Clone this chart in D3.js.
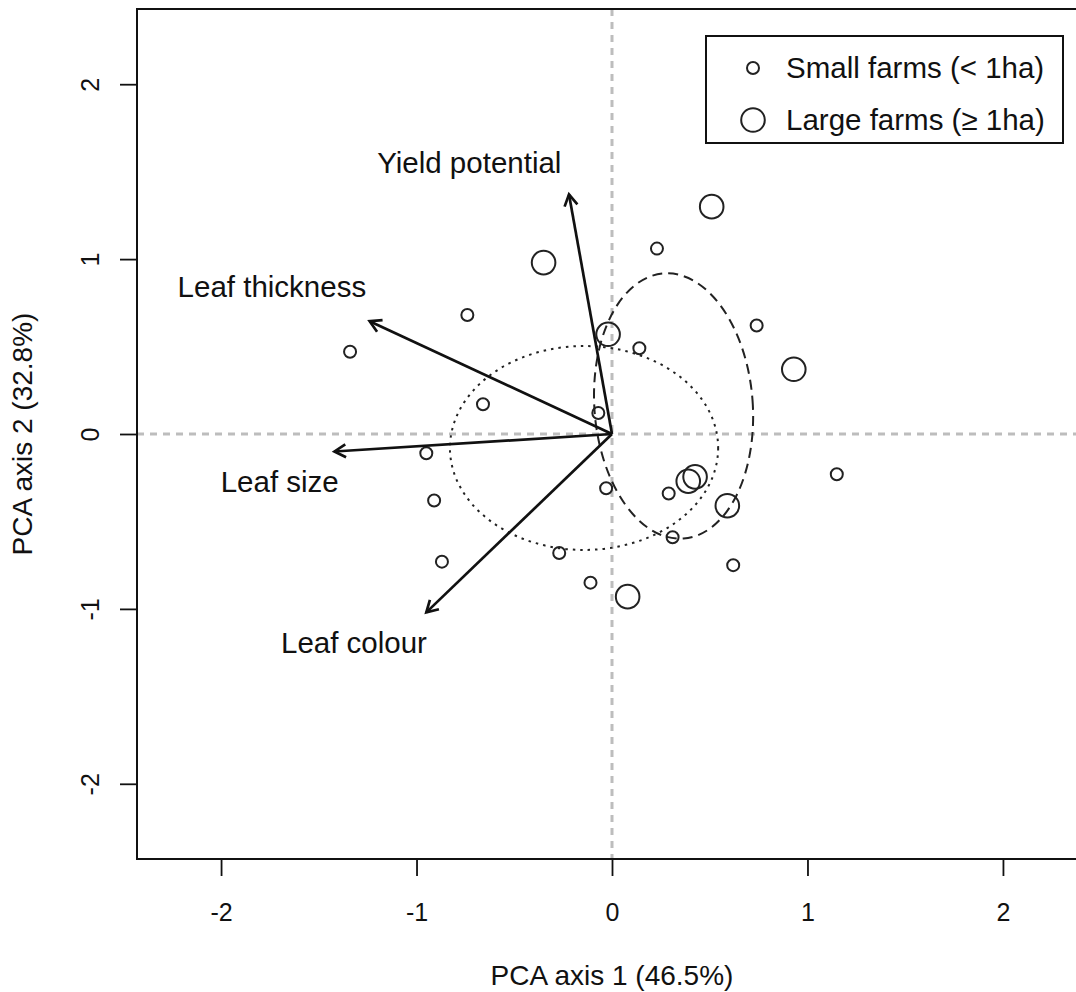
<!DOCTYPE html>
<html>
<head>
<meta charset="utf-8">
<script src="https://cdn.jsdelivr.net/npm/d3@7"></script>
<style>
  body { margin: 0; background: #fff; }
  svg { font-family: "Liberation Sans", Arial, sans-serif; }
</style>
</head>
<body>
<div id="chart"></div>
<script>
// farm scores on the first two PCA axes
var smallX = [0.23, 0.74, 0.14, -0.07, -0.03, 0.29, 0.31, 0.62, 1.15, -0.27, -0.11, -0.74, -1.34, -0.66, -0.95, -0.91, -0.87];
var smallY = [1.06, 0.62, 0.49, 0.12, -0.31, -0.34, -0.59, -0.75, -0.23, -0.68, -0.85, 0.68, 0.47, 0.17, -0.11, -0.38, -0.73];
var largeX = [0.51, -0.35, -0.02, 0.93, 0.39, 0.425, 0.59, 0.08];
var largeY = [1.30, 0.98, 0.57, 0.37, -0.27, -0.245, -0.41, -0.93];

// variable loadings (arrows) and where their labels sit
var varNames = ["Yield potential", "Leaf thickness", "Leaf size", "Leaf colour"];
var loadX = [-0.22, -1.24, -1.42, -0.95];
var loadY = [1.37, 0.645, -0.10, -1.02];
var labelX = [-0.73, -1.74, -1.70, -1.32];
var labelY = [1.55, 0.84, -0.275, -1.195];

// group ellipses: small farms (dotted), large farms (dashed)
var ellipseGroup = ["Small farms (< 1ha)", "Large farms (\u2265 1ha)"];
var ellipseCX = [-0.143, 0.315];
var ellipseCY = [-0.08, 0.16];
var ellipseRX = [0.686, 0.405];
var ellipseRY = [0.583, 0.76];
var ellipseAngle = [0, -4.3];

var xTicks = [-2, -1, 0, 1, 2];
var yTicks = [-2, -1, 0, 1, 2];
var xTitle = "PCA axis 1 (46.5%)";
var yTitle = "PCA axis 2 (32.8%)";

var width = 1076, height = 992;
var plot = {left: 137, right: 1087, top: 9, bottom: 859};

var x = d3.scaleLinear().domain([-2.43, 2.43]).range([plot.left, plot.right]);
var y = d3.scaleLinear().domain([-2.43, 2.43]).range([plot.bottom, plot.top]);

var svg = d3.select("#chart").append("svg")
    .attr("width", width)
    .attr("height", height);

// zero reference lines
svg.append("line")
    .attr("x1", x(0)).attr("x2", x(0))
    .attr("y1", plot.top).attr("y2", plot.bottom)
    .style("stroke", "#bdbdbd").style("stroke-width", 3)
    .style("stroke-dasharray", "7,6");
svg.append("line")
    .attr("x1", plot.left).attr("x2", plot.right)
    .attr("y1", y(0)).attr("y2", y(0))
    .style("stroke", "#bdbdbd").style("stroke-width", 3)
    .style("stroke-dasharray", "7,6");

// ellipses
var dashes = ["2.5,5", "10,6"];
ellipseGroup.forEach(function(g, i){
    svg.append("ellipse")
        .attr("transform", "translate(" + x(ellipseCX[i]) + "," + y(ellipseCY[i]) + ") rotate(" + ellipseAngle[i] + ")")
        .attr("rx", x(ellipseRX[i]) - x(0))
        .attr("ry", y(0) - y(ellipseRY[i]))
        .style("fill", "none")
        .style("stroke", "#222")
        .style("stroke-width", 2)
        .style("stroke-dasharray", dashes[i]);
});

// points
var small = smallX.map(function(d, i){ return {x: d, y: smallY[i]}; });
var large = largeX.map(function(d, i){ return {x: d, y: largeY[i]}; });

svg.append("g").selectAll("circle")
    .data(small).enter().append("circle")
    .attr("cx", function(d){ return x(d.x); })
    .attr("cy", function(d){ return y(d.y); })
    .attr("r", 6)
    .style("fill", "none").style("stroke", "#222").style("stroke-width", 2);

svg.append("g").selectAll("circle")
    .data(large).enter().append("circle")
    .attr("cx", function(d){ return x(d.x); })
    .attr("cy", function(d){ return y(d.y); })
    .attr("r", 11.8)
    .style("fill", "none").style("stroke", "#222").style("stroke-width", 2);

// loading arrows
var headLen = 13, headAng = Math.PI / 6;
varNames.forEach(function(name, i){
    var x0 = x(0), y0 = y(0), x1 = x(loadX[i]), y1 = y(loadY[i]);
    var a = Math.atan2(y1 - y0, x1 - x0);
    svg.append("line")
        .attr("x1", x0).attr("y1", y0).attr("x2", x1).attr("y2", y1)
        .style("stroke", "#111").style("stroke-width", 2.7);
    var p = "M" + (x1 - headLen * Math.cos(a - headAng)) + "," + (y1 - headLen * Math.sin(a - headAng))
        + "L" + x1 + "," + y1
        + "L" + (x1 - headLen * Math.cos(a + headAng)) + "," + (y1 - headLen * Math.sin(a + headAng));
    svg.append("path").attr("d", p)
        .style("fill", "none").style("stroke", "#111").style("stroke-width", 2.7);
    svg.append("text")
        .attr("x", x(labelX[i]))
        .attr("y", y(labelY[i]))
        .attr("dy", "0.35em")
        .attr("text-anchor", "middle")
        .style("font-size", "29.5px")
        .style("fill", "#111")
        .text(name);
});

// axes
var xAxis = svg.append("g")
    .attr("transform", "translate(0," + plot.bottom + ")")
    .call(d3.axisBottom(x).tickValues(xTicks).tickSize(17).tickPadding(27).tickFormat(function(d){ return String(d); }));
xAxis.select(".domain").remove();
xAxis.selectAll("line").style("stroke", "#111").style("stroke-width", 1.8);
xAxis.selectAll("text").style("font-size", "25px").style("fill", "#111")
    .style("font-family", "Liberation Sans, Arial, sans-serif");

var yAxis = svg.append("g")
    .attr("transform", "translate(" + plot.left + ",0)")
    .call(d3.axisLeft(y).tickValues(yTicks).tickSize(17).tickFormat(function(d){ return String(d); }));
yAxis.select(".domain").remove();
yAxis.selectAll("line").style("stroke", "#111").style("stroke-width", 1.8);
yAxis.selectAll("text")
    .attr("transform", "rotate(-90)")
    .attr("x", 0).attr("y", -38).attr("dy", 0)
    .attr("text-anchor", "middle")
    .style("font-size", "25px").style("fill", "#111")
    .style("font-family", "Liberation Sans, Arial, sans-serif");

// plot box
svg.append("rect")
    .attr("x", plot.left).attr("y", plot.top)
    .attr("width", plot.right - plot.left).attr("height", plot.bottom - plot.top)
    .style("fill", "none").style("stroke", "#111").style("stroke-width", 2);

// axis titles
svg.append("text")
    .attr("x", x(0)).attr("y", 985)
    .attr("text-anchor", "middle")
    .style("font-size", "28px").style("fill", "#111")
    .text(xTitle);
svg.append("text")
    .attr("transform", "translate(32," + y(0) + ") rotate(-90)")
    .attr("text-anchor", "middle")
    .style("font-size", "28px").style("fill", "#111")
    .text(yTitle);

// legend
var legend = svg.append("g");
legend.append("rect")
    .attr("x", 706).attr("y", 36).attr("width", 357).attr("height", 107)
    .style("fill", "#fff").style("stroke", "#111").style("stroke-width", 2);
var legR = [6, 11.8];
ellipseGroup.forEach(function(g, i){
    var ly = 68 + i * 52;
    legend.append("circle")
        .attr("cx", 753).attr("cy", ly).attr("r", legR[i])
        .style("fill", "none").style("stroke", "#222").style("stroke-width", 2);
    legend.append("text")
        .attr("x", 786).attr("y", ly).attr("dy", "0.35em")
        .style("font-size", "29.5px").style("fill", "#111")
        .text(g);
});
</script>
</body>
</html>
